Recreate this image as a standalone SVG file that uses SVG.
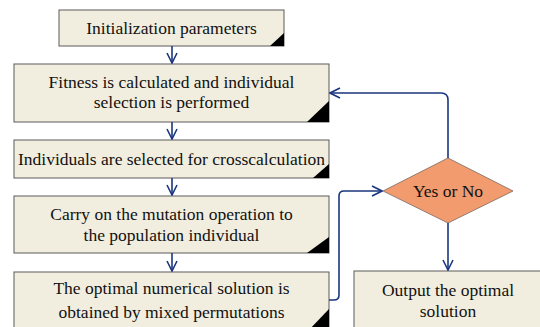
<svg xmlns="http://www.w3.org/2000/svg" width="540" height="327" viewBox="0 0 540 327">
<style>
.box{fill:#F2EEDF;stroke:#5a5a5a;stroke-width:1}
.tri{fill:#000}
.dia{fill:#F29B6E;stroke:#7a6a60;stroke-width:0.8}
text{font-size:17.5px;fill:#111;text-anchor:middle}
.c{fill:none;stroke:#1B3680;stroke-width:1.6}
</style>
<defs>
<marker id="ah" viewBox="0 0 12 12" refX="11" refY="6" markerWidth="12" markerHeight="12" markerUnits="userSpaceOnUse" orient="auto">
<path d="M1,1 L11,6 L1,11" fill="none" stroke="#1B3680" stroke-width="1.6"/>
</marker>
</defs>
<rect width="540" height="327" fill="#fff"/>
<g font-family="Liberation Serif, Times New Roman, serif">
<g id="n1">
<rect class="box" x="59" y="10" width="225" height="36"/>
<path class="tri" d="M284,33 L284,46 L270,46 Z"/>
<text x="171.5" y="34">Initialization parameters</text>
</g>
<g id="n2">
<rect class="box" x="14" y="64" width="315" height="58"/>
<path class="tri" d="M329,101 L329,122 L307,122 Z"/>
<text x="171.5" y="88">Fitness is calculated and individual</text>
<text x="171.5" y="108">selection is performed</text>
</g>
<g id="n3">
<rect class="box" x="14" y="140" width="315" height="38"/>
<path class="tri" d="M329,164 L329,178 L313,178 Z"/>
<text x="171.5" y="165">Individuals are selected for crosscalculation</text>
</g>
<g id="n4">
<rect class="box" x="14" y="196" width="315" height="57"/>
<path class="tri" d="M329,237 L329,253 L307,253 Z"/>
<text x="171.5" y="220">Carry on the mutation operation to</text>
<text x="171.5" y="241">the population individual</text>
</g>
<g id="n5">
<rect class="box" x="14" y="272" width="315" height="60"/>
<path class="tri" d="M329,309 L329,332 L307,332 Z"/>
<text x="171.5" y="294">The optimal numerical solution is</text>
<text x="171.5" y="318">obtained by mixed permutations</text>
</g>
<g id="n6">
<path class="dia" d="M448,158 L513,191 L448,223 L383,191 Z"/>
<text x="448" y="197">Yes or No</text>
</g>
<g id="n7">
<rect class="box" x="354" y="271" width="190" height="62"/>
<text x="448" y="296">Output the optimal</text>
<text x="448" y="317">solution</text>
</g>
</g>
<g id="connectors">
<path class="c" d="M172,46 L172,63" marker-end="url(#ah)"/>
<path class="c" d="M172,122 L172,139" marker-end="url(#ah)"/>
<path class="c" d="M172,178 L172,195" marker-end="url(#ah)"/>
<path class="c" d="M172,253 L172,271" marker-end="url(#ah)"/>
<path class="c" d="M329,300 L334,300 Q339,300 339,295 L339,196 Q339,191 344,191 L382,191" marker-end="url(#ah)"/>
<path class="c" d="M448,158 L448,100 Q448,93 441,93 L330,93" marker-end="url(#ah)"/>
<path class="c" d="M448,223 L448,270" marker-end="url(#ah)"/>
</g>
</svg>
